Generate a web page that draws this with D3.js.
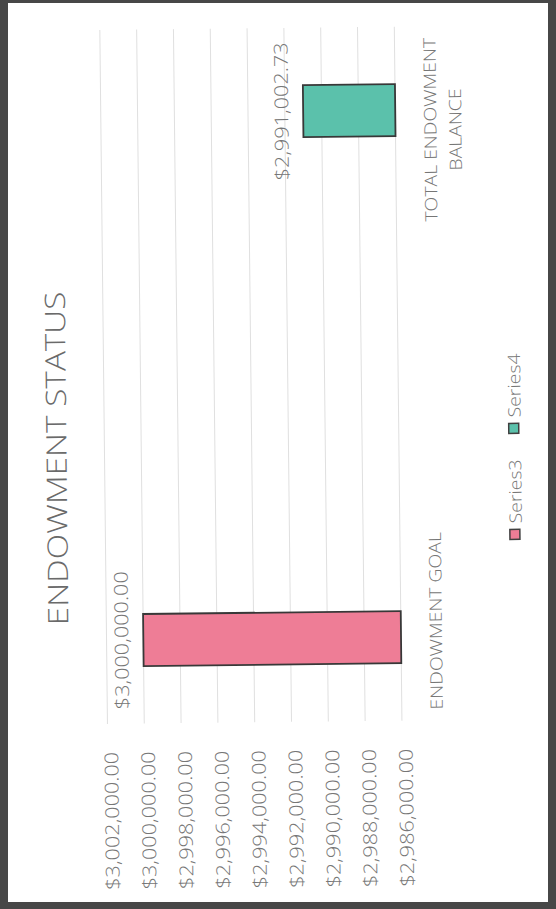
<!DOCTYPE html>
<html>
<head>
<meta charset="utf-8">
<script src="https://cdn.jsdelivr.net/npm/d3@7"></script>
<style>
  body { margin: 0; background: #fff; }
  svg text { font-family: "Open Sans", sans-serif; font-weight: 300; fill: #767676; }
</style>
</head>
<body>
<svg id="chart"></svg>
<script>
// set up constants
const width = 556;
const height = 909;
const plot = { left: 104.5, right: 399, top: 28, bottom: 722 };
const stretch = 1.14; // the scan is a bit taller than wide

// data
const categories = ['ENDOWMENT GOAL', 'TOTAL ENDOWMENT BALANCE'];
const categoryLines = [['ENDOWMENT GOAL'], ['TOTAL ENDOWMENT', 'BALANCE']];
const seriesNames = ['Series3', 'Series4'];
const series3 = [3000000, null];
const series4 = [null, 2991002.73];
const tickValues = [2986000, 2988000, 2990000, 2992000, 2994000, 2996000, 2998000, 3000000, 3002000];
const seriesColors = ['#ee7d96', '#5bc1ab'];
const seriesValues = [series3, series4];

const svg = d3.select('#chart')
  .attr('width', width)
  .attr('height', height);

// scanned page edge
svg.append('rect')
  .attr('width', width)
  .attr('height', height)
  .attr('fill', '#474747');
svg.append('rect')
  .attr('x', 8)
  .attr('y', 3)
  .attr('width', 540)
  .attr('height', 899)
  .attr('fill', '#fff');

// whole chart sits slightly skewed on the scan
const g = svg.append('g')
  .attr('transform', 'rotate(-0.63, 278, 454)');

// create scales
const xScale = d3.scaleLinear()
  .domain([tickValues[0], tickValues[tickValues.length - 1]])
  .range([plot.right, plot.left]);

const yCat = d3.scaleBand()
  .domain(categories.slice().reverse())
  .range([plot.top, plot.bottom]);

const ySer = d3.scaleBand()
  .domain(seriesNames.slice().reverse())
  .range([0, yCat.bandwidth()])
  .paddingInner(0.711)
  .paddingOuter(0.319);

// gridlines
g.append('g')
  .selectAll('line')
  .data(tickValues)
  .enter()
  .append('line')
  .attr('x1', d => xScale(d))
  .attr('x2', d => xScale(d))
  .attr('y1', plot.top)
  .attr('y2', plot.bottom)
  .attr('stroke', '#e0e0e0')
  .attr('stroke-width', 1);

// value axis (labels below plot, rotated)
const xAxis = d3.axisBottom(xScale)
  .tickValues(tickValues)
  .tickSize(0)
  .tickFormat(d3.format('$,.2f'));

const axisG = g.append('g')
  .attr('transform', `translate(0, ${plot.bottom})`)
  .call(xAxis);
axisG.select('.domain').remove();
axisG.selectAll('text')
  .attr('x', 0)
  .attr('y', 0)
  .attr('dy', '0.52em')
  .attr('transform', `translate(0, 28) rotate(-90) scale(${stretch}, 1)`)
  .style('text-anchor', 'end')
  .style('font-size', '19px')
  .style('font-family', '"Open Sans", sans-serif')
  .style('font-weight', 300)
  .attr('fill', '#767676');

// bars
const bars = [];
categories.forEach((c, i) => {
  seriesNames.forEach((s, j) => {
    const v = seriesValues[j][i];
    if (v != null) bars.push({ category: c, series: s, value: v, color: seriesColors[j], index: i });
  });
});

g.selectAll('rect.bar')
  .data(bars)
  .enter()
  .append('rect')
  .attr('class', 'bar')
  .attr('x', d => xScale(d.value))
  .attr('y', d => yCat(d.category) + ySer(d.series))
  .attr('width', d => xScale(tickValues[0]) - xScale(d.value))
  .attr('height', ySer.bandwidth())
  .attr('fill', d => d.color)
  .attr('stroke', '#383838')
  .attr('stroke-width', 1.8);

// data labels
const fmt = d3.format('$,.2f');
g.selectAll('text.value')
  .data(bars)
  .enter()
  .append('text')
  .attr('class', 'value')
  .attr('transform', d => `translate(${xScale(d.value) - 15}, ${yCat(d.category) + ySer(d.series) + ySer.bandwidth() / 2}) rotate(-90) scale(${stretch}, 1)`)
  .attr('text-anchor', 'middle')
  .style('font-size', '19px')
  .text(d => fmt(d.value));

// category labels
g.selectAll('text.cat')
  .data(bars)
  .enter()
  .append('text')
  .attr('class', 'cat')
  .attr('transform', d => {
    const cy = yCat(d.category) + ySer(d.series) + ySer.bandwidth() / 2;
    const y = cy + (cy < 454 ? 20 : -16);
    return `translate(440, ${y}) rotate(-90) scale(${stretch}, 1)`;
  })
  .attr('text-anchor', 'middle')
  .style('font-size', '17px')
  .selectAll('tspan')
  .data(d => categoryLines[d.index])
  .enter()
  .append('tspan')
  .attr('x', 0)
  .attr('y', (d, i) => i * 25)
  .text(d => d);

// legend
const legend = g.append('g')
  .selectAll('g')
  .data(seriesNames)
  .enter()
  .append('g')
  .attr('transform', (d, i) => `translate(0, ${543 - i * 106})`);

legend.append('rect')
  .attr('x', 509)
  .attr('y', -11)
  .attr('width', 10)
  .attr('height', 10)
  .attr('fill', (d, i) => seriesColors[i])
  .attr('stroke', '#404040')
  .attr('stroke-width', 1.5);

legend.append('text')
  .attr('transform', `translate(521, -17) rotate(-90) scale(${stretch}, 1)`)
  .attr('text-anchor', 'start')
  .style('font-size', '17px')
  .text(d => d);

// title
g.append('text')
  .attr('transform', 'translate(66.5, 456) rotate(-90) scale(1.19, 1)')
  .attr('text-anchor', 'middle')
  .style('font-size', '28px')
  .style('fill', '#6a6a6a')
  .text('ENDOWMENT STATUS');
</script>
</body>
</html>
